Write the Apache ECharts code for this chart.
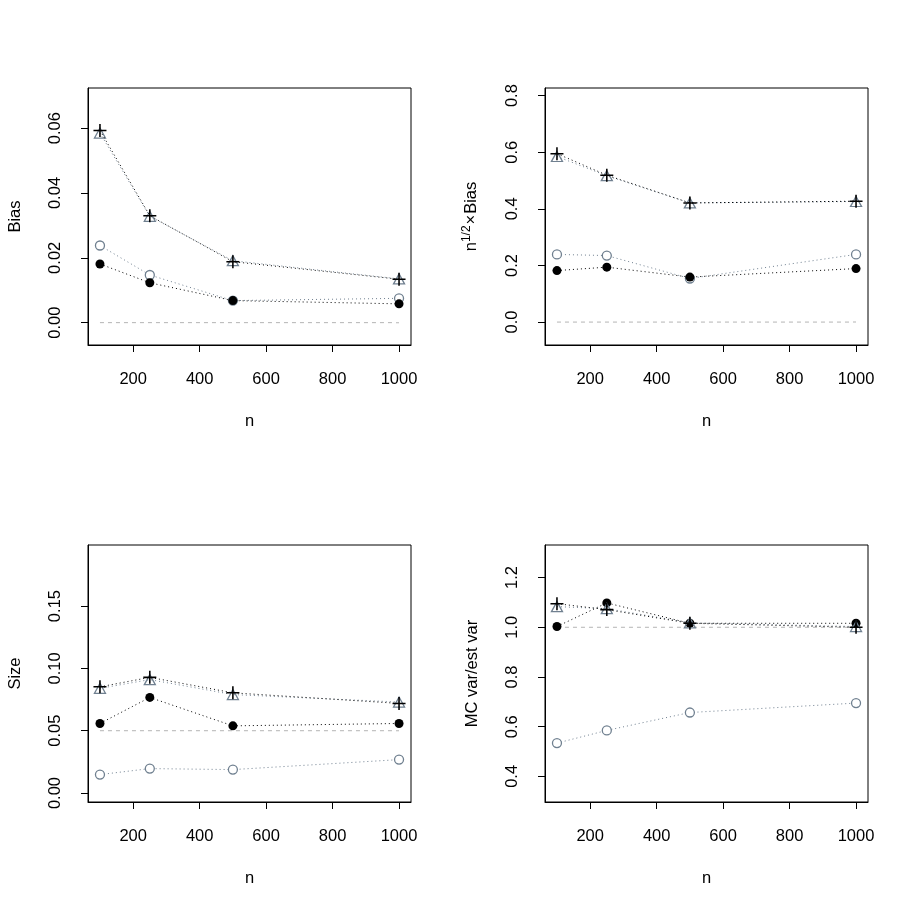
<!DOCTYPE html>
<html><head><meta charset="utf-8">
<script src="https://cdn.jsdelivr.net/npm/echarts@6/dist/echarts.min.js"></script>
<style>html,body{margin:0;padding:0;background:#fff}#c{width:913px;height:913px}</style>
</head><body><div id="c"></div>
<script>
const nVals = [100, 250, 500, 1000];
const xTicks = [200, 400, 600, 800, 1000];

// Panel 1: Bias
const biasOpen = [0.0238, 0.0147, 0.0068, 0.0075];
const biasFilled = [0.0181, 0.0123, 0.0068, 0.0058];
const biasTri = [0.0585, 0.0328, 0.0191, 0.0135];
const biasPlus = [0.0593, 0.0330, 0.0188, 0.0134];
const biasTicks = [0, 0.02, 0.04, 0.06];
const biasRef = 0;

// Panel 2: n^{1/2} x Bias
const sbOpen = [0.239, 0.235, 0.154, 0.239];
const sbFilled = [0.182, 0.194, 0.159, 0.189];
const sbTri = [0.585, 0.517, 0.421, 0.426];
const sbPlus = [0.595, 0.519, 0.421, 0.427];
const sbTicks = [0, 0.2, 0.4, 0.6, 0.8];
const sbRef = 0;

// Panel 3: Size
const sizeOpen = [0.0148, 0.0196, 0.0188, 0.0268];
const sizeFilled = [0.0558, 0.0767, 0.0539, 0.0558];
const sizeTri = [0.084, 0.091, 0.079, 0.073];
const sizePlus = [0.0852, 0.0928, 0.0804, 0.0719];
const sizeTicks = [0, 0.05, 0.10, 0.15];
const sizeRef = 0.05;

// Panel 4: MC var / est var
const varOpen = [0.534, 0.585, 0.657, 0.695];
const varFilled = [1.003, 1.098, 1.016, 1.016];
const varTri = [1.083, 1.075, 1.018, 1.003];
const varPlus = [1.095, 1.071, 1.016, 1.000];
const varTicks = [0.4, 0.6, 0.8, 1.0, 1.2];
const varRef = 1.0;

const FONT = "'Liberation Sans', Arial, Helvetica, sans-serif";
const SLATE = '#708090';
const PLUS = 'path://M4.4,0h1.2v10h-1.2z M0,4.4h10v1.2h-10z';

const panels = [
  {left: 88, top: 88, ymin: -0.0069, ymax: 0.0724, ticks: biasTicks, dec: 2, name: 'Bias', ref: biasRef,
   s: [biasOpen, biasFilled, biasTri, biasPlus]},
  {left: 545, top: 88, ymin: -0.081, ymax: 0.827, ticks: sbTicks, dec: 1,
   name: '{t|n}{sup|1/2}{x|×}{t|Bias}', ref: sbRef, s: [sbOpen, sbFilled, sbTri, sbPlus]},
  {left: 88, top: 545, ymin: -0.0072, ymax: 0.199, ticks: sizeTicks, dec: 2, name: 'Size', ref: sizeRef,
   s: [sizeOpen, sizeFilled, sizeTri, sizePlus]},
  {left: 545, top: 545, ymin: 0.297, ymax: 1.331, ticks: varTicks, dec: 1, name: 'MC var/est var', ref: varRef,
   s: [varOpen, varFilled, varTri, varPlus]}
];

const grid = [], xAxis = [], yAxis = [], series = [];
const pts = arr => nVals.map((n, i) => [n, arr[i]]);

panels.forEach((p, k) => {
  grid.push({left: p.left, top: p.top, width: 323, height: 257, show: true,
    borderColor: '#000', borderWidth: 1, backgroundColor: 'transparent'});
  xAxis.push({type: 'value', gridIndex: k, min: 64, max: 1036, position: 'bottom',
    name: 'n', nameLocation: 'middle', nameGap: 68,
    nameTextStyle: {fontFamily: FONT, fontSize: 16.5, color: '#000'},
    axisLine: {show: true, onZero: false, lineStyle: {color: '#000', width: 1}},
    splitLine: {show: false},
    axisTick: {show: true, inside: false, length: 7, lineStyle: {color: '#000', width: 1}, customValues: xTicks},
    axisLabel: {fontFamily: FONT, fontSize: 16.5, color: '#000', margin: 26, customValues: xTicks,
      formatter: v => String(v)}
  });
  yAxis.push({type: 'value', gridIndex: k, min: p.ymin, max: p.ymax, position: 'left',
    name: p.name, nameLocation: 'middle', nameGap: 64,
    nameTextStyle: {fontFamily: FONT, fontSize: 16.5, color: '#000',
      rich: {t: {fontFamily: FONT, fontSize: 16.5, color: '#000'},
             sup: {fontFamily: FONT, fontSize: 12, color: '#000', verticalAlign: 'bottom', padding: [0, 0, 8, 0]},
             x: {fontFamily: FONT, fontSize: 16.5, color: '#000', padding: [0, 1, 0, 1]}}},
    axisLine: {show: true, onZero: false, lineStyle: {color: '#000', width: 1}},
    splitLine: {show: false},
    axisTick: {show: true, inside: false, length: 7, lineStyle: {color: '#000', width: 1}, customValues: p.ticks},
    axisLabel: {fontFamily: FONT, fontSize: 16.5, color: '#000', margin: 24, rotate: 90,
      customValues: p.ticks, formatter: v => v.toFixed(p.dec)}
  });
  // reference dashed line
  series.push({type: 'line', xAxisIndex: k, yAxisIndex: k, data: [[100, p.ref], [1000, p.ref]],
    symbol: 'none', silent: true, z: 1,
    lineStyle: {color: '#b4b4b4', width: 1, type: [4, 4]}});
  // open circles
  series.push({type: 'line', xAxisIndex: k, yAxisIndex: k, data: pts(p.s[0]), z: 2,
    symbol: 'circle', symbolSize: 9,
    itemStyle: {color: '#fff', borderColor: SLATE, borderWidth: 1.3},
    lineStyle: {color: SLATE, width: 1, type: [1, 3]}});
  // filled circles
  series.push({type: 'line', xAxisIndex: k, yAxisIndex: k, data: pts(p.s[1]), z: 3,
    symbol: 'circle', symbolSize: 9,
    itemStyle: {color: '#000', borderColor: '#000', borderWidth: 0},
    lineStyle: {color: '#000', width: 1, type: [1, 3]}});
  // open triangles
  series.push({type: 'line', xAxisIndex: k, yAxisIndex: k, data: pts(p.s[2]), z: 4,
    symbol: 'triangle', symbolSize: [11, 10],
    itemStyle: {color: 'rgba(255,255,255,0)', borderColor: SLATE, borderWidth: 1.3},
    lineStyle: {color: SLATE, width: 1, type: [1, 3]}});
  // plus
  series.push({type: 'line', xAxisIndex: k, yAxisIndex: k, data: pts(p.s[3]), z: 5,
    symbol: PLUS, symbolSize: 13,
    itemStyle: {color: '#000', borderWidth: 0},
    lineStyle: {color: '#000', width: 1, type: [1, 3]}});
});

const chart = echarts.init(document.getElementById('c'), null, {renderer: 'canvas'});
chart.setOption({animation: false, backgroundColor: '#fff', grid, xAxis, yAxis, series});
</script></body></html>
